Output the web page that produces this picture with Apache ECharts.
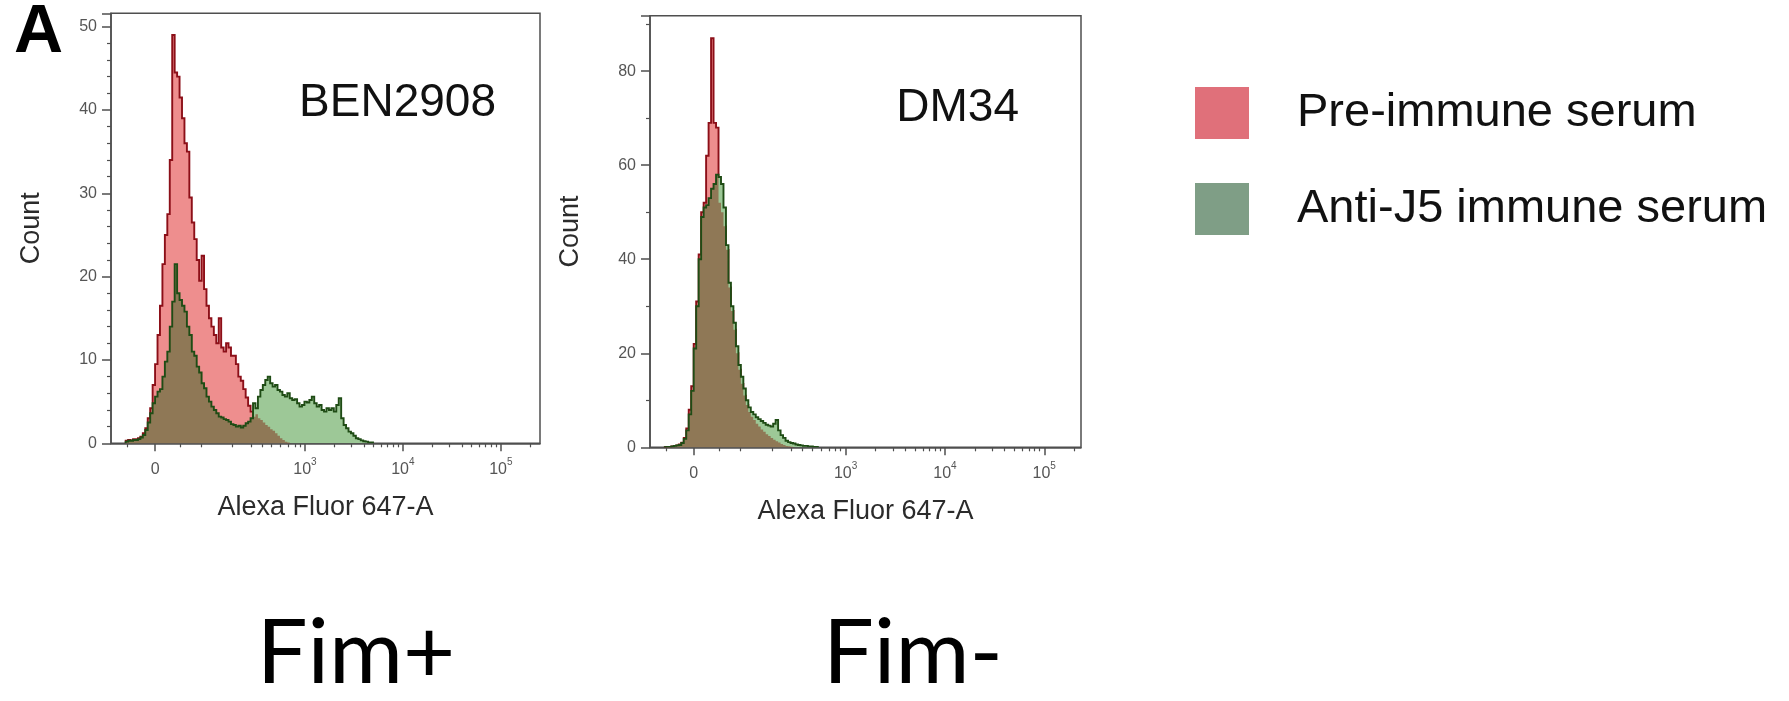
<!DOCTYPE html>
<html>
<head>
<meta charset="utf-8">
<script src="https://cdn.jsdelivr.net/npm/echarts@6/dist/echarts.min.js"></script>
<style>
  html, body { margin: 0; padding: 0; background: #fff; }
  #chart { width: 1789px; height: 701px; }
</style>
</head>
<body>
<div id="chart"></div>
<script>
// Flow cytometry histograms (Alexa Fluor 647-A), biexponential display scale:
// one display unit = one decade; bins are given by their left edges.
const binStart = -0.30;
const binWidth = 0.025;

// BEN2908 (Fim+)
const ben2908Pre = [
  0.3, 0.4, 0.3, 0.5, 0.5, 0.6, 0.8, 1.2, 1.8, 3.0,
  4.2, 7.0, 9.5, 13.0, 16.5, 21.5, 25.0, 27.5, 34.0, 49.0,
  44.5, 44.0, 41.5, 39.0, 36.0, 35.0, 29.5, 26.5, 24.5, 22.0,
  19.5, 22.5, 18.5, 16.5, 15.0, 14.0, 13.0, 12.0, 15.0, 11.5,
  11.0, 12.0, 11.5, 10.5, 10.5, 9.5, 8.0, 7.5, 6.5, 5.5,
  4.5, 3.8, 3.2, 3.5, 3.0, 2.8, 2.5, 2.2, 2.0, 1.7,
  1.5, 1.2, 0.9, 0.6, 0.4, 0.2, 0.1
];
const ben2908Anti = [
  0.2, 0.3, 0.3, 0.4, 0.4, 0.5, 0.7, 1.0, 1.6, 2.5,
  3.6, 4.8, 5.6, 6.2, 6.5, 8.0, 9.8, 11.0, 14.0, 17.0,
  21.5, 18.0, 17.2, 16.5, 15.8, 14.0, 13.0, 11.0, 10.5, 9.2,
  8.5, 7.2, 6.6, 5.6, 5.0, 4.4, 4.0, 3.6, 3.2, 3.1,
  2.9, 2.8, 2.6, 2.3, 2.2, 2.0, 2.1, 1.9, 2.1, 2.4,
  2.6, 3.0, 4.8, 4.2, 5.6, 6.4, 7.0, 7.6, 8.0, 7.2,
  6.8, 7.0, 6.4, 6.2, 5.8, 5.6, 6.0, 5.4, 5.2, 5.3,
  4.8, 4.4, 4.6, 5.0, 4.9, 5.2, 5.6, 4.8, 4.4, 4.6,
  4.0, 3.8, 4.2, 4.0, 4.2, 3.8, 4.6, 5.4, 3.0, 2.2,
  1.8, 1.4, 1.2, 0.9, 0.6, 0.5, 0.35, 0.25, 0.2, 0.1,
  0.1
];

// DM34 (Fim-)
const dm34Pre = [
  0, 0.1, 0.1, 0.2, 0.3, 0.4, 0.6, 1.0, 2.0, 4.0,
  8.0, 13.0, 22.0, 31.0, 41.0, 50.0, 52.0, 62.0, 69.0, 87.0,
  69.0, 68.0, 52.0, 50.0, 47.0, 42.0, 34.0, 29.0, 25.0, 20.0,
  16.5, 13.5, 11.0, 9.0, 7.5, 6.5, 5.8, 5.0, 4.4, 3.8,
  3.3, 2.8, 2.4, 2.0, 1.6, 1.3, 1.0, 0.7, 0.5, 0.3,
  0.2, 0.1
];
const dm34Anti = [
  0, 0.1, 0.1, 0.2, 0.3, 0.4, 0.5, 0.9, 1.8, 3.6,
  7.0, 12.0, 21.0, 30.0, 40.0, 49.0, 51.0, 51.5, 53.0, 55.0,
  56.0, 58.0, 57.5, 56.0, 51.0, 43.0, 35.0, 30.0, 26.5, 21.5,
  17.5, 15.0, 12.5, 10.0, 8.5, 7.5, 7.0, 6.4, 6.0, 5.6,
  5.2, 4.8, 4.6, 4.4, 5.0, 5.8, 3.6, 2.6, 2.0, 1.4,
  1.1, 0.9, 0.8, 0.6, 0.5, 0.4, 0.3, 0.3, 0.2, 0.2,
  0.1, 0.1
];

// Axis ticks on the display scale
const decadeTicks = [0, 1.53, 2.53, 3.53];
const decadeExponents = ['', '3', '4', '5'];
const minorTicks = [
  -0.28, 0.26, 0.47, 0.79, 0.98, 1.09, 1.19, 1.28, 1.36, 1.43, 1.48,
  1.831, 2.007, 2.132, 2.229, 2.308, 2.375, 2.433, 2.484,
  2.831, 3.007, 3.132, 3.229, 3.308, 3.375, 3.433, 3.484,
  3.831
];

const seriesNames = ['Pre-immune serum', 'Anti-J5 immune serum'];
const FONT = '"Liberation Sans", Arial, Helvetica, sans-serif';
const FRAME = '#4f4f4f';
const PINK_FILL = '#ee8e8e';
const RED_LINE = '#8c0f18';
const GREEN_FILL = '#9dc897';
const GREEN_LINE = '#1f4c15';
const OVERLAP_FILL = '#8f7856';   // where both histograms cover the same area

// Step outline of a histogram: baseline -> bin tops -> baseline, in pixels.
function stepPoints(api, n, valueAt) {
  const pts = [];
  const start = api.coord([api.value(0, 0), 0]);
  pts.push(start);
  for (let i = 0; i < n; i++) {
    const x0 = api.value(0, i);
    const x1 = i < n - 1 ? api.value(0, i + 1) : x0 + binWidth;
    const v = valueAt(i);
    pts.push(api.coord([x0, v]));
    pts.push(api.coord([x1, v]));
  }
  pts.push([pts[pts.length - 1][0], start[1]]);
  return pts;
}

// under: the histogram drawn beneath this one (its shared area gets OVERLAP_FILL)
function histogram(name, panel, counts, fill, stroke, under) {
  return {
    type: 'custom',
    name: name,
    coordinateSystem: 'cartesian2d',
    xAxisIndex: panel * 2,
    yAxisIndex: panel,
    silent: true,
    clip: true,
    encode: { x: 0, y: 1 },
    data: counts.map((c, i) => [binStart + i * binWidth, c]),
    renderItem: function (params, api) {
      if (params.dataIndexInside !== 0) return null;
      const n = params.dataInsideLength;
      const own = stepPoints(api, n, i => api.value(1, i));
      const children = [
        { type: 'polygon', shape: { points: own }, style: { fill: fill } }
      ];
      if (under) {
        const shared = stepPoints(api, n, i => Math.min(api.value(1, i), under[i] || 0));
        children.push({ type: 'polygon', shape: { points: shared }, style: { fill: OVERLAP_FILL } });
      }
      children.push({ type: 'polyline', shape: { points: own }, style: { stroke: stroke, lineWidth: 1.9, fill: null } });
      return { type: 'group', children: children };
    }
  };
}

function decadeLabel(value) {
  let idx = 0;
  decadeTicks.forEach((t, i) => { if (Math.abs(t - value) < 1e-6) idx = i; });
  return decadeExponents[idx] ? '{b|10}{s|' + decadeExponents[idx] + '}' : '{b|0}';
}

function xAxes(gridIndex, min, max) {
  const line = { color: FRAME, width: 1.5 };
  return [
    {
      type: 'value', gridIndex: gridIndex, min: min, max: max, position: 'bottom',
      name: 'Alexa Fluor 647-A', nameLocation: 'middle', nameGap: 49,
      nameTextStyle: { fontFamily: FONT, fontSize: 27, color: '#2b2b2b', lineHeight: 30 },
      axisLine: { show: true, onZero: false, lineStyle: line },
      axisTick: { show: true, customValues: decadeTicks, length: 8, lineStyle: line },
      axisLabel: {
        customValues: decadeTicks, margin: 14, formatter: decadeLabel,
        rich: {
          b: { fontFamily: FONT, fontSize: 16, color: '#555', lineHeight: 20, verticalAlign: 'bottom' },
          s: { fontFamily: FONT, fontSize: 10, color: '#555', lineHeight: 11, verticalAlign: 'top' }
        }
      },
      splitLine: { show: false }
    },
    {
      type: 'value', gridIndex: gridIndex, min: min, max: max, position: 'bottom',
      axisLine: { show: false, onZero: false },
      axisTick: { show: true, customValues: minorTicks, length: 4, lineStyle: { color: FRAME, width: 1.2 } },
      axisLabel: { show: false },
      splitLine: { show: false }
    }
  ];
}

function yAxis(gridIndex, max, interval, minorSplit) {
  const line = { color: FRAME, width: 1.5 };
  return {
    type: 'value', gridIndex: gridIndex, min: 0, max: max, interval: interval,
    name: 'Count', nameLocation: 'middle', nameRotate: 90, nameGap: 64,
    nameTextStyle: { fontFamily: FONT, fontSize: 27, color: '#2b2b2b', lineHeight: 30 },
    axisLine: { show: true, onZero: false, lineStyle: line },
    axisTick: { show: true, length: 9, lineStyle: line },
    minorTick: { show: true, splitNumber: minorSplit, length: 4, lineStyle: { color: FRAME, width: 1.2 } },
    axisLabel: {
      fontFamily: FONT, fontSize: 16, color: '#555', margin: 14,
      formatter: v => (Math.abs(v / interval - Math.round(v / interval)) < 1e-6 ? String(v) : '')
    },
    splitLine: { show: false }
  };
}

const chart = echarts.init(document.getElementById('chart'), null, { renderer: 'canvas' });

chart.setOption({
  backgroundColor: '#ffffff',
  animation: false,
  grid: [
    { left: 111, top: 13.3, width: 429, height: 430, show: true, borderColor: FRAME, borderWidth: 1.5, containLabel: false },
    { left: 650, top: 15.7, width: 431, height: 431.6, show: true, borderColor: FRAME, borderWidth: 1.5, containLabel: false }
  ],
  xAxis: [].concat(xAxes(0, -0.45, 3.93), xAxes(1, -0.44, 3.90)),
  yAxis: [yAxis(0, 51.6, 10, 5), yAxis(1, 91.8, 20, 2)],
  legend: {
    orient: 'vertical', left: 1195, top: 87, padding: 0,
    itemWidth: 54, itemHeight: 52, itemGap: 44, icon: 'rect', selectedMode: false,
    data: [
      { name: seriesNames[0], itemStyle: { color: '#e0707a' } },
      { name: seriesNames[1], itemStyle: { color: '#7f9e86' } }
    ],
    textStyle: { fontFamily: FONT, fontSize: 47, color: '#111', lineHeight: 38, padding: [14, 0, 0, 43] }
  },
  graphic: [
    { type: 'text', x: 14, y: 33.5, style: { text: 'A', font: 'bold 68px ' + FONT, fill: '#000', verticalAlign: 'middle', align: 'left' } },
    { type: 'text', x: 496, y: 103.5, style: { text: 'BEN2908', font: '46px ' + FONT, fill: '#111', verticalAlign: 'middle', align: 'right' } },
    { type: 'text', x: 1019, y: 108.5, style: { text: 'DM34', font: '46px ' + FONT, fill: '#111', verticalAlign: 'middle', align: 'right' } },
    { type: 'text', x: 356, y: 654, style: { text: 'Fim+', font: '90px Lato, "Open Sans", sans-serif', fill: '#000', verticalAlign: 'middle', align: 'center' } },
    { type: 'text', x: 913, y: 654, style: { text: 'Fim-', font: '90px Lato, "Open Sans", sans-serif', fill: '#000', verticalAlign: 'middle', align: 'center' } }
  ],
  series: [
    histogram(seriesNames[0], 0, ben2908Pre, PINK_FILL, RED_LINE, null),
    histogram(seriesNames[1], 0, ben2908Anti, GREEN_FILL, GREEN_LINE, ben2908Pre),
    histogram(seriesNames[0], 1, dm34Pre, PINK_FILL, RED_LINE, null),
    histogram(seriesNames[1], 1, dm34Anti, GREEN_FILL, GREEN_LINE, dm34Pre)
  ]
});
</script>
</body>
</html>
